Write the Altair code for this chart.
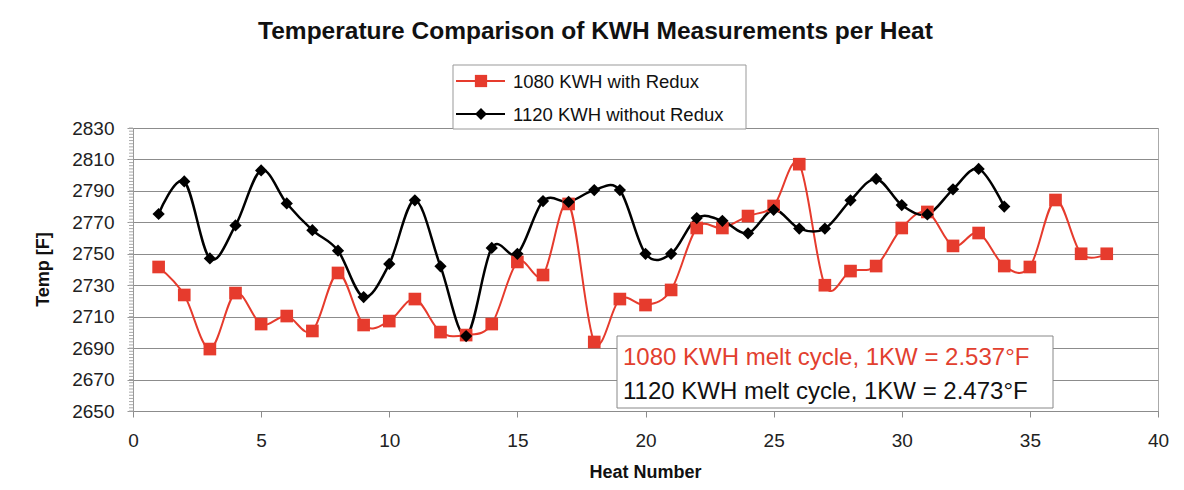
import altair as alt
import pandas as pd

# ---- data ----
heat_with = list(range(1, 39))
temp_with = [2741.6, 2723.8, 2689.4, 2725, 2705.3, 2710.4, 2700.9, 2737.8, 2704.7, 2707.2,
             2721.2, 2700.2, 2698.3, 2705.3, 2744.8, 2736.5, 2781.7, 2693.9, 2721.2, 2717.4,
             2727, 2766.4, 2766.4, 2774, 2780.4, 2807, 2730, 2739, 2742.2, 2766.4,
             2776.6, 2755, 2763.2, 2742.2, 2741.6, 2784.2, 2750, 2750]
heat_without = list(range(1, 35))
temp_without = [2775.3, 2796, 2747, 2768, 2803, 2782, 2765, 2752, 2722.5, 2743.5,
                2784, 2742, 2697.7, 2753.7, 2750, 2783.5, 2783, 2790.5, 2790.5, 2750,
                2750, 2772.7, 2771, 2763, 2778, 2766, 2766, 2784, 2797.6, 2781,
                2775, 2791, 2804, 2780]
series_names = ["1080 KWH with Redux", "1120 KWH without Redux"]
x_ticks = [0, 5, 10, 15, 20, 25, 30, 35, 40]
y_min, y_max = 2650, 2830
y_major = list(range(y_min, y_max + 1, 20))
y_minor = list(range(y_min, y_max + 1, 2))
annotation_lines = ["1080 KWH melt cycle, 1KW = 2.537\u00b0F",
                    "1120 KWH melt cycle, 1KW = 2.473\u00b0F"]

RED = "#e63b2d"
BLACK = "#000000"
GRID = "#8c8c8c"
FONT = "Liberation Sans"

df_with = pd.DataFrame({"heat": heat_with, "temp": temp_with, "series": series_names[0]})
df_without = pd.DataFrame({"heat": heat_without, "temp": temp_without, "series": series_names[1]})
df_minor = pd.DataFrame({"temp": y_minor})

x_axis = alt.Axis(values=x_ticks, grid=False, tickSize=6, tickColor=GRID,
                  domainColor=GRID, labelPadding=14, labelFlush=False,
                  labelFont=FONT, labelFontSize=19, labelColor="#222",
                  title="Heat Number", titleFont=FONT, titleFontSize=18,
                  titleFontWeight="bold", titleColor="#111",
                  titleX=512, titleY=61, titleBaseline="middle")
y_axis = alt.Axis(values=y_major, format="d", orient="left",
                  grid=True, gridColor=GRID, gridWidth=1.2,
                  tickSize=6, tickColor="#999", domainColor="#999",
                  labelOverlap=False, labelFlush=False, labelPadding=13,
                  labelFont=FONT, labelFontSize=19, labelColor="#222",
                  title="Temp [F]", titleFont=FONT, titleFontSize=18,
                  titleFontWeight="bold", titleColor="#111",
                  titleAngle=270, titleX=-90, titleY=141,
                  titleBaseline="middle", titleAlign="center")

x_enc = alt.X("heat:Q", scale=alt.Scale(domain=[0, 40], nice=False, zero=False), axis=x_axis)
y_enc = alt.Y("temp:Q", scale=alt.Scale(domain=[y_min, y_max], nice=False, zero=False), axis=y_axis)

line_with = alt.Chart(df_with).mark_line(color=RED, strokeWidth=2, interpolate="cardinal").encode(
    x=x_enc, y=y_enc)
pts_with = alt.Chart(df_with).mark_point(color=RED, filled=True, opacity=1, shape="square", size=160).encode(
    x=x_enc, y=y_enc)
line_without = alt.Chart(df_without).mark_line(color=BLACK, strokeWidth=2.5, interpolate="cardinal").encode(
    x=x_enc, y=y_enc)
pts_without = alt.Chart(df_without).mark_point(color=BLACK, filled=True, opacity=1, shape="diamond", size=150).encode(
    x=x_enc, y=y_enc)
# minor ticks on the y axis, positioned through the y scale
minor_ticks = alt.Chart(df_minor).mark_rule(color="#aaa", strokeWidth=1, clip=False).encode(
    y=y_enc, x=alt.value(-4), x2=alt.value(0))

one = pd.DataFrame({"k": [0]})

# legend box (drawn manually)
leg_box = alt.Chart(one).mark_rect(fill="white", stroke="#999", strokeWidth=1).encode(
    x=alt.value(320), x2=alt.value(613), y=alt.value(-63), y2=alt.value(1))
leg_line1 = alt.Chart(one).mark_rule(color=RED, strokeWidth=2).encode(
    x=alt.value(323), x2=alt.value(372), y=alt.value(-47))
leg_pt1 = alt.Chart(one).mark_point(color=RED, filled=True, opacity=1, shape="square", size=150).encode(
    x=alt.value(348), y=alt.value(-47))
leg_txt1 = alt.Chart(one).mark_text(align="left", baseline="middle", font=FONT, fontSize=18.5, color="#111").encode(
    x=alt.value(380), y=alt.value(-46), text=alt.value(series_names[0]))
leg_line2 = alt.Chart(one).mark_rule(color=BLACK, strokeWidth=2).encode(
    x=alt.value(323), x2=alt.value(372), y=alt.value(-14))
leg_pt2 = alt.Chart(one).mark_point(color=BLACK, filled=True, opacity=1, shape="diamond", size=140).encode(
    x=alt.value(348), y=alt.value(-14))
leg_txt2 = alt.Chart(one).mark_text(align="left", baseline="middle", font=FONT, fontSize=18.5, color="#111").encode(
    x=alt.value(380), y=alt.value(-13), text=alt.value(series_names[1]))

# annotation box
ann_box = alt.Chart(one).mark_rect(fill="white", stroke="#888", strokeWidth=1).encode(
    x=alt.value(484), x2=alt.value(920), y=alt.value(208), y2=alt.value(280))
ann1 = alt.Chart(one).mark_text(align="left", baseline="middle", font=FONT, fontSize=24, color="#e2402f").encode(
    x=alt.value(490), y=alt.value(230), text=alt.value(annotation_lines[0]))
ann2 = alt.Chart(one).mark_text(align="left", baseline="middle", font=FONT, fontSize=24, color="#111").encode(
    x=alt.value(490), y=alt.value(264), text=alt.value(annotation_lines[1]))

chart = alt.layer(
    line_with, minor_ticks, line_without, pts_with, pts_without,
    leg_box, leg_line1, leg_pt1, leg_txt1, leg_line2, leg_pt2, leg_txt2,
    ann_box, ann1, ann2
).properties(
    width=1025, height=283,
    title=alt.TitleParams("Temperature Comparison of KWH Measurements per Heat",
                          font=FONT, fontSize=24.5, fontWeight="bold", color="#111",
                          anchor="middle", dx=-50, offset=20),
    autosize=alt.AutoSizeParams(type="none"),
    padding={"left": 125, "top": 120, "right": 18, "bottom": 71},
    background="white"
).configure_view(stroke="#aaa", strokeWidth=1)

chart.save("out.html", embed_options={"renderer": "svg", "actions": False})
